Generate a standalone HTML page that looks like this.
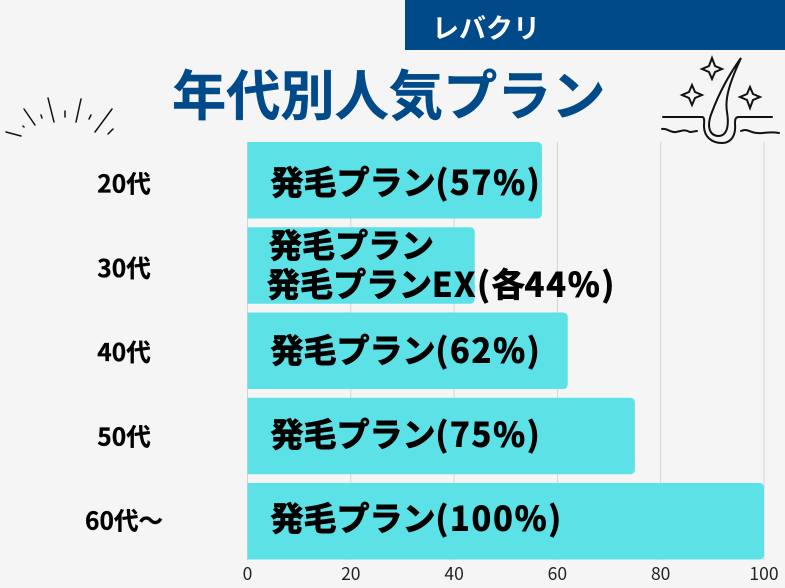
<!DOCTYPE html>
<html lang="ja">
<head>
<meta charset="utf-8">
<title>年代別人気プラン</title>
<style>
html,body{margin:0;padding:0;background:#f5f5f5;}
svg{display:block;}
text{font-family:"Liberation Sans","Noto Sans CJK JP",sans-serif;}
.cjk{font-family:"Noto Sans CJK JP",sans-serif;font-weight:700;}
.tick{font-family:"Noto Sans CJK JP",sans-serif;font-weight:400;}
</style>
</head>
<body>
<svg id="chart" xmlns="http://www.w3.org/2000/svg" width="785" height="588" viewBox="0 0 785 588">
  <rect x="0" y="0" width="785" height="588" fill="#f5f5f5"/>
  <rect x="405" y="0" width="380" height="50" fill="#004a8a"/>
  <text class="cjk" x="432" y="38" font-size="27" fill="#ffffff">レバクリ</text>
  <text class="cjk" x="172" y="115" font-size="54.2" fill="#004a8a" stroke="#004a8a" stroke-width="0.4">年代別人気プラン</text>

  <g stroke="#111" fill="none" stroke-linecap="round">
    <path d="M6 132 L21 136" stroke-width="1.5"/>
    <path d="M23 126 L24 127" stroke-width="1.5"/>
    <path d="M24 109 L35 125" stroke-width="1.5"/>
    <path d="M41 115 L42 118" stroke-width="1.5"/>
    <path d="M48 98 L54 122" stroke-width="1.5"/>
    <path d="M65 111 L65 117" stroke-width="1.5"/>
    <path d="M81 99 L76 122" stroke-width="1.5"/>
    <path d="M91 115 L89 119" stroke-width="1.5"/>
    <path d="M112 109 L95 132" stroke-width="1.5"/>
    <path d="M113 129 L108 134" stroke-width="1.5"/>
  </g>

  <g stroke="#111" fill="none" stroke-width="2" stroke-linecap="round">
    <path d="M741 58 C728 76 718 96 712 112 C707 124 708 135 718 136 C728 136 729 124 727 112 C725 100 728 86 741 58Z"/>
    <path d="M663 117 H702 C705 117 704 122 704 126 C704 137 712 143 722 143 C732 143 736 134 735 124 C735 120 735 117 739 117 H772"/>
    <path d="M662 129 C668 128 670 133 676 132 C682 131 684 129 690 132 C693 132 695 131 697 131"/>
    <path d="M741 131 C748 128 750 133 757 133 C764 134 768 131 779 133"/>
    <path d="M712 58 L715 66 L722 69 L715 72 L712 79 L709 72 L702 69 L709 66 Z"/>
    <path d="M692 85 L695 92 L702 95 L695 98 L692 105 L689 98 L682 95 L689 92 Z"/>
    <path d="M750 87 L753 94 L760 97 L753 100 L750 108 L747 100 L740 97 L747 94 Z"/>
  </g>

  <g id="grid"></g>
  <g id="bars"></g>
  <g id="cats"></g>
  <g id="ticks"></g>
  <g id="labels"></g>
</svg>
<script>
var categories = ['20代', '30代', '40代', '50代', '60代〜'];
var seriesValues = [57, 44, 62, 75, 100];
var barLabels = [['発毛プラン(57%)'], ['発毛プラン', '発毛プランEX(各44%)'], ['発毛プラン(62%)'], ['発毛プラン(75%)'], ['発毛プラン(100%)']];
var tickValues = [0, 20, 40, 60, 80, 100];

var NS = 'http://www.w3.org/2000/svg';
function xScale(v) { return 247.5 + v * 5.165; }
function bandTop(i) { return 142 + i * 85.25; }
function catBaseline(i) { return 192.5 + i * 84.25; }
function labelBaseline(i) { return 194.25 + i * 84; }
var bandHeight = 76.5;
function make(tag, attrs, parent) {
  var el = document.createElementNS(NS, tag);
  for (var k in attrs) el.setAttribute(k, attrs[k]);
  parent.appendChild(el);
  return el;
}
var grid = document.getElementById('grid');
var bars = document.getElementById('bars');
var cats = document.getElementById('cats');
var ticks = document.getElementById('ticks');
var labels = document.getElementById('labels');

tickValues.forEach(function (t) {
  var line = make('line', {x1: xScale(t), x2: xScale(t), y1: 142, y2: 560, stroke: '#d4d4d4', 'stroke-width': 1}, grid);
  
  
  var tick = make('text', {x: xScale(t), y: 580, 'font-size': 17.5, fill: '#222', 'text-anchor': 'middle', 'class': 'tick'}, ticks);
  
  
  tick.textContent = t;
});

seriesValues.forEach(function (v, i) {
  var x0 = xScale(0), x1 = xScale(v), y = bandTop(i), h = bandHeight, r = 5;
  var bar = make('path', {
    d: 'M' + x0 + ' ' + y + ' H' + (x1 - r) + ' Q' + x1 + ' ' + y + ' ' + x1 + ' ' + (y + r) +
       ' V' + (y + h - r) + ' Q' + x1 + ' ' + (y + h) + ' ' + (x1 - r) + ' ' + (y + h) + ' H' + x0 + ' Z',
    fill: '#5ce1e6'
  }, bars);
  
  

  var cat = make('text', {x: 124, y: catBaseline(i), 'font-size': 24.5, fill: '#000', stroke: '#000', 'stroke-width': 0.3, 'text-anchor': 'middle', 'class': 'cjk'}, cats);
  
  
  cat.textContent = categories[i];

  var lines = barLabels[i];
  lines.forEach(function (s, j) {
    var ly = lines.length === 1 ? labelBaseline(i) : labelBaseline(i) - 20.75 + j * 39;
    var lab = make('text', {x: lines.length === 1 ? 270.5 : (j === 0 ? 269 : 267), y: ly, 'font-size': 33, fill: '#000', stroke: '#000', 'stroke-width': 0.9, 'class': 'cjk'}, labels);
    
    
    s.match(/[\x00-\x7f]+|[^\x00-\x7f]+/g).forEach(function (run) {
      var span = make('tspan', {}, lab);
      if (/^[\x00-\x7f]/.test(run)) span.setAttribute('letter-spacing', '2.1');
      span.textContent = run;
    });
  });
});
</script>
</body>
</html>
